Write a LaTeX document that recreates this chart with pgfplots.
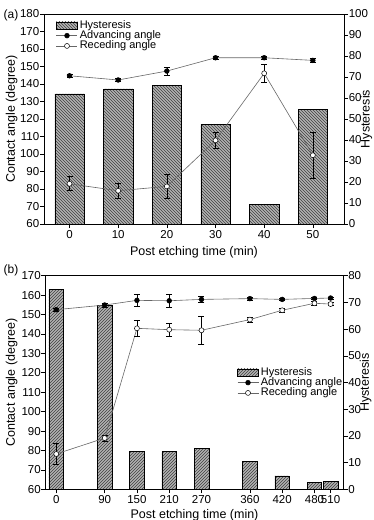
\documentclass[border=0pt]{standalone}
\usepackage{fontspec}
\setmainfont{Liberation Sans}
\usepackage{pgfplots}
\pgfplotsset{compat=1.18}
\usetikzlibrary{patterns}

\newcommand{\labelfont}{\fontsize{12.5}{14}\selectfont}

\pgfplotsset{
  panel/.style={
    scale only axis,
    tick align=outside,
    major tick length=4pt,
    scaled ticks=false,
    /pgf/number format/assume math mode=true,
    tick label style={font=\fontsize{11.5}{12}\selectfont},
    yticklabel style={inner sep=0.6pt},
    xticklabel style={inner sep=2pt},
    axis line style={line width=0.6pt},
    every tick/.style={black, line width=0.6pt},
  },
  hystbar/.style={draw=black, line width=0.5pt, fill=black!30},
  barlegend/.style={legend image code/.code={%
      \draw[##1] (0pt,-3.5pt) rectangle (21pt,3.5pt);}},
  linelegend/.style={legend image code/.code={%
      \draw[mark repeat=2, mark phase=2, ##1] plot coordinates {(0pt,0pt) (10.5pt,0pt) (21pt,0pt)};}},
  advplot/.style={black!60, line width=0.6pt, mark=*, mark size=2.4pt,
      mark options={solid, fill=black, draw=black, line width=0.5pt}},
  recplot/.style={black!60, line width=0.6pt, mark=*, mark size=2.5pt,
      mark options={solid, fill=white, draw=black, line width=0.5pt}},
  errs/.style={error bars/.cd, y dir=both, y explicit,
      error bar style={black, line width=0.6pt},
      error mark options={rotate=90, black, mark size=3pt, line width=0.6pt}},
  leg/.style={legend cell align=left,
      legend style={draw=none, fill=none, font=\fontsize{11}{11}\selectfont,
        nodes={inner sep=0pt, text height=8pt, text depth=2.3pt},
        row sep=0pt, column sep=2pt}},
}

\begin{document}
\begin{tikzpicture}
\path[use as bounding box] (0pt,0pt) rectangle (373pt,-520pt);

% ---------------- panel (a) ----------------
\begin{axis}[panel, at={(44pt,-224pt)}, anchor=south west,
  width=300pt, height=210pt,
  xmin=-5.24, xmax=56.4, ymin=0, ymax=100, ytick distance=10,
  axis x line=none, axis y line*=right,
  ylabel={Hysteresis},
  every axis y label/.style={at={(axis description cs:1.075,0.5)}, rotate=90, anchor=center, font=\labelfont}]
\addplot[ybar, bar width=6, bar shift=0pt, hystbar,
  postaction={pattern=north west lines, pattern color=black!75}]
  coordinates {(0,62.0) (10,64.3) (20,65.9) (30,47.5) (40,9.4) (50,54.6)};
\end{axis}

\begin{axis}[panel, leg, at={(44pt,-224pt)}, anchor=south west,
  width=300pt, height=210pt,
  xmin=-5.24, xmax=56.4, ymin=60, ymax=180, ytick distance=10,
  xtick={0,10,20,30,40,50}, tick pos=left,
  xlabel={Post etching time (min)}, ylabel={Contact angle (degree)},
  every axis y label/.style={at={(axis description cs:-0.1077,0.5)}, rotate=90, anchor=center, font=\labelfont},
  every axis x label/.style={at={(axis description cs:0.5,-0.1333)}, anchor=center, font=\labelfont},
  legend style={at={(axis description cs:0.03,0.981)}, anchor=north west}]
\addlegendimage{barlegend, hystbar, postaction={pattern=north west lines, pattern color=black!75}}
\addlegendentry{Hysteresis}
\addplot[advplot, linelegend, errs] coordinates {
  (0,144.7) +- (0,1.0) (10,142.3) +- (0,1.0) (20,147.4) +- (0,2.4)
  (30,155.0) +- (0,0.8) (40,155.0) +- (0,0.8) (50,153.5) +- (0,1.0)};
\addlegendentry{Advancing angle}
\addplot[recplot, linelegend, errs] coordinates {
  (0,83.0) +- (0,4.0) (10,79.0) +- (0,4.5) (20,81.5) +- (0,6.7)
  (30,107.8) +- (0,4.5) (40,146.1) +- (0,5.4) (50,99.3) +- (0,13.0)};
\addlegendentry{Receding angle}
\end{axis}
\node[font=\fontsize{12}{13}\selectfont] at (11pt,-15.7pt) {(a)};

% ---------------- panel (b) ----------------
\begin{axis}[panel, at={(45.5pt,-489.3pt)}, anchor=south west,
  width=298pt, height=213.6pt,
  xmin=-20, xmax=534, ymin=0, ymax=80, ytick distance=10,
  axis x line=none, axis y line*=right,
  ylabel={Hysteresis},
  every axis y label/.style={at={(axis description cs:1.074,0.5)}, rotate=90, anchor=center, font=\labelfont}]
\addplot[ybar, bar width=27, bar shift=0pt, hystbar,
  postaction={pattern=north east lines, pattern color=black!75}]
  coordinates {(0,75.0) (90,69.0) (150,14.1) (210,14.1) (270,15.3)
               (360,10.4) (420,5.0) (480,2.6) (510,3.1)};
\end{axis}

\begin{axis}[panel, leg, at={(45.5pt,-489.3pt)}, anchor=south west,
  width=298pt, height=213.6pt,
  xmin=-20, xmax=534, ymin=60, ymax=170, ytick distance=10,
  xtick={0,90,150,210,270,360,420,480,510}, tick pos=left,
  xlabel={Post etching time (min)}, ylabel={Contact angle (degree)},
  every axis y label/.style={at={(axis description cs:-0.1134,0.5)}, rotate=90, anchor=center, font=\labelfont},
  every axis x label/.style={at={(axis description cs:0.5,-0.120)}, anchor=center, font=\labelfont},
  legend style={at={(axis description cs:0.6326,0.582)}, anchor=north west}]
\addlegendimage{barlegend, hystbar, postaction={pattern=north east lines, pattern color=black!75}}
\addlegendentry{Hysteresis}
\addplot[advplot, linelegend, errs] coordinates {
  (0,152.5) +- (0,0.8) (90,154.9) +- (0,1.0) (150,157.3) +- (0,3.0)
  (210,157.1) +- (0,3.5) (270,157.8) +- (0,1.5) (360,158.2) +- (0,0.8)
  (420,157.8) +- (0,0.5) (480,158.3) +- (0,0.5) (510,158.5) +- (0,0.5)};
\addlegendentry{Advancing angle}
\addplot[recplot, linelegend, errs] coordinates {
  (0,78.2) +- (0,5.4) (90,86.4) +- (0,1.5) (150,142.9) +- (0,3.9)
  (210,142.2) +- (0,3.3) (270,141.9) +- (0,7.0) (360,147.4) +- (0,1.2)
  (420,152.2) +- (0,1.0) (480,155.8) +- (0,0.8) (510,155.4) +- (0,0.8)};
\addlegendentry{Receding angle}
\end{axis}
\node[font=\fontsize{12}{13}\selectfont] at (11pt,-270.7pt) {(b)};
\end{tikzpicture}
\end{document}
